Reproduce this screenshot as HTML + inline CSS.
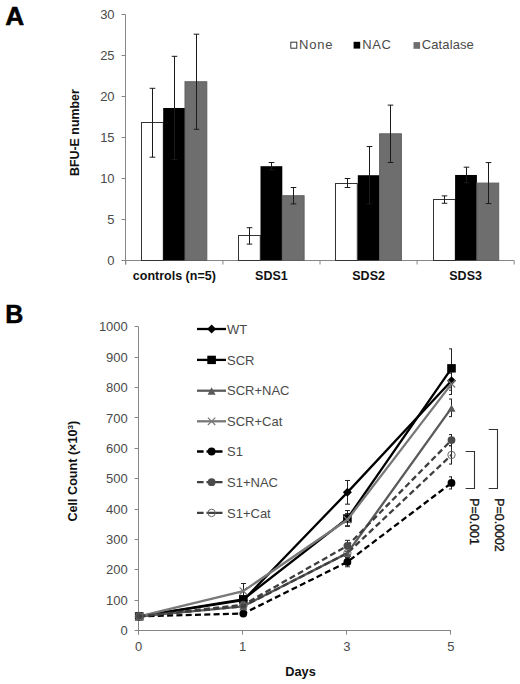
<!DOCTYPE html>
<html><head><meta charset="utf-8"><style>
html,body{margin:0;padding:0;background:#fff;}
body{width:520px;height:684px;overflow:hidden;}
svg{display:block;font-family:"Liberation Sans",sans-serif;}
</style></head><body>
<svg width="520" height="684" viewBox="0 0 520 684">
<rect width="520" height="684" fill="#fff"/>
<text transform="translate(5.3,24.7) scale(1.05,1)" font-size="25" font-weight="bold" fill="#000" stroke="#000" stroke-width="0.5">A</text>
<line x1="125.5" y1="14.500000000000028" x2="125.5" y2="264.5" stroke="#868686" stroke-width="1"/>
<line x1="121.5" y1="260.5" x2="125.5" y2="260.5" stroke="#868686" stroke-width="1"/>
<text x="114.6" y="265.1" font-size="13" text-anchor="end" fill="#4a4a4a">0</text>
<line x1="121.5" y1="219.5" x2="125.5" y2="219.5" stroke="#868686" stroke-width="1"/>
<text x="114.6" y="224.1" font-size="13" text-anchor="end" fill="#4a4a4a">5</text>
<line x1="121.5" y1="178.5" x2="125.5" y2="178.5" stroke="#868686" stroke-width="1"/>
<text x="114.6" y="183.1" font-size="13" text-anchor="end" fill="#4a4a4a">10</text>
<line x1="121.5" y1="137.5" x2="125.5" y2="137.5" stroke="#868686" stroke-width="1"/>
<text x="114.6" y="142.1" font-size="13" text-anchor="end" fill="#4a4a4a">15</text>
<line x1="121.5" y1="96.5" x2="125.5" y2="96.5" stroke="#868686" stroke-width="1"/>
<text x="114.6" y="101.1" font-size="13" text-anchor="end" fill="#4a4a4a">20</text>
<line x1="121.5" y1="55.50000000000003" x2="125.5" y2="55.50000000000003" stroke="#868686" stroke-width="1"/>
<text x="114.6" y="60.1" font-size="13" text-anchor="end" fill="#4a4a4a">25</text>
<line x1="121.5" y1="14.500000000000028" x2="125.5" y2="14.500000000000028" stroke="#868686" stroke-width="1"/>
<text x="114.6" y="19.1" font-size="13" text-anchor="end" fill="#4a4a4a">30</text>
<line x1="125.5" y1="260.5" x2="514.1999999999999" y2="260.5" stroke="#868686" stroke-width="1"/>
<line x1="125.8" y1="260.5" x2="125.8" y2="264.5" stroke="#868686" stroke-width="1"/>
<line x1="222.89999999999998" y1="260.5" x2="222.89999999999998" y2="264.5" stroke="#868686" stroke-width="1"/>
<line x1="320.0" y1="260.5" x2="320.0" y2="264.5" stroke="#868686" stroke-width="1"/>
<line x1="417.09999999999997" y1="260.5" x2="417.09999999999997" y2="264.5" stroke="#868686" stroke-width="1"/>
<line x1="514.1999999999999" y1="260.5" x2="514.1999999999999" y2="264.5" stroke="#868686" stroke-width="1"/>
<text x="174.3" y="280.4" font-size="12.5" font-weight="bold" text-anchor="middle" fill="#111">controls (n=5)</text>
<rect x="141.50" y="122.50" width="21.80" height="138.00" fill="#fff" stroke="#333" stroke-width="1"/>
<rect x="163.20" y="107.98" width="21.80" height="152.52" fill="#000" stroke="#000" stroke-width="0"/>
<rect x="185.00" y="81.74" width="21.80" height="178.76" fill="#6e6e6e" stroke="#606060" stroke-width="1"/>
<path d="M152.50 88.30V157.18M149.70 88.30h5.6M149.70 157.18h5.6" stroke="#1a1a1a" stroke-width="1" fill="none"/>
<path d="M174.50 56.32V159.64M171.70 56.32h5.6M171.70 159.64h5.6" stroke="#1a1a1a" stroke-width="1" fill="none"/>
<path d="M196.50 34.18V129.30M193.70 34.18h5.6M193.70 129.30h5.6" stroke="#1a1a1a" stroke-width="1" fill="none"/>
<text x="271.4" y="280.4" font-size="12.5" font-weight="bold" text-anchor="middle" fill="#111">SDS1</text>
<rect x="238.50" y="235.50" width="21.80" height="25.00" fill="#fff" stroke="#333" stroke-width="1"/>
<rect x="260.50" y="166.20" width="21.80" height="94.30" fill="#000" stroke="#000" stroke-width="0"/>
<rect x="282.30" y="195.72" width="21.80" height="64.78" fill="#6e6e6e" stroke="#606060" stroke-width="1"/>
<path d="M249.50 227.70V244.10M246.70 227.70h5.6M246.70 244.10h5.6" stroke="#1a1a1a" stroke-width="1" fill="none"/>
<path d="M271.50 162.51V169.89M268.70 162.51h5.6M268.70 169.89h5.6" stroke="#1a1a1a" stroke-width="1" fill="none"/>
<path d="M293.50 187.52V203.92M290.70 187.52h5.6M290.70 203.92h5.6" stroke="#1a1a1a" stroke-width="1" fill="none"/>
<text x="368.6" y="280.4" font-size="12.5" font-weight="bold" text-anchor="middle" fill="#111">SDS2</text>
<rect x="335.50" y="183.50" width="21.80" height="77.00" fill="#fff" stroke="#333" stroke-width="1"/>
<rect x="357.80" y="175.22" width="21.80" height="85.28" fill="#000" stroke="#000" stroke-width="0"/>
<rect x="379.60" y="133.81" width="21.80" height="126.69" fill="#6e6e6e" stroke="#606060" stroke-width="1"/>
<path d="M347.50 178.50V187.52M344.70 178.50h5.6M344.70 187.52h5.6" stroke="#1a1a1a" stroke-width="1" fill="none"/>
<path d="M369.50 146.52V203.92M366.70 146.52h5.6M366.70 203.92h5.6" stroke="#1a1a1a" stroke-width="1" fill="none"/>
<path d="M390.50 105.11V162.51M387.70 105.11h5.6M387.70 162.51h5.6" stroke="#1a1a1a" stroke-width="1" fill="none"/>
<text x="465.6" y="280.4" font-size="12.5" font-weight="bold" text-anchor="middle" fill="#111">SDS3</text>
<rect x="433.50" y="199.50" width="21.80" height="61.00" fill="#fff" stroke="#333" stroke-width="1"/>
<rect x="455.10" y="174.97" width="21.80" height="85.53" fill="#000" stroke="#000" stroke-width="0"/>
<rect x="476.90" y="183.09" width="21.80" height="77.41" fill="#6e6e6e" stroke="#606060" stroke-width="1"/>
<path d="M444.50 195.88V203.26M441.70 195.88h5.6M441.70 203.26h5.6" stroke="#1a1a1a" stroke-width="1" fill="none"/>
<path d="M466.50 167.18V182.76M463.70 167.18h5.6M463.70 182.76h5.6" stroke="#1a1a1a" stroke-width="1" fill="none"/>
<path d="M488.50 162.59V203.59M485.70 162.59h5.6M485.70 203.59h5.6" stroke="#1a1a1a" stroke-width="1" fill="none"/>
<rect x="290.8" y="42.2" width="6" height="6" fill="#fff" stroke="#333" stroke-width="1"/>
<text x="299" y="49" font-size="13" letter-spacing="0.8" fill="#4a4a4a">None</text>
<rect x="353.6" y="41.8" width="6.6" height="6.8" fill="#000"/>
<text x="362.2" y="49" font-size="13" letter-spacing="0.6" fill="#4a4a4a">NAC</text>
<rect x="413.5" y="42.1" width="6.6" height="6.7" fill="#6e6e6e"/>
<text x="421.8" y="49" font-size="13" letter-spacing="0.1" fill="#4a4a4a">Catalase</text>
<text transform="translate(79.3,132.6) rotate(-90)" font-size="12.4" font-weight="bold" text-anchor="middle" fill="#111">BFU-E number</text>
<text transform="translate(5.2,322.8) scale(1.0,1)" font-size="25" font-weight="bold" fill="#000" stroke="#000" stroke-width="0.5">B</text>
<line x1="138.5" y1="326.70000000000005" x2="138.5" y2="634.6" stroke="#868686" stroke-width="1"/>
<line x1="134.5" y1="630.50" x2="138.5" y2="630.50" stroke="#868686" stroke-width="1"/>
<text x="127.8" y="635.2" font-size="13" text-anchor="end" fill="#4a4a4a">0</text>
<line x1="134.5" y1="600.50" x2="138.5" y2="600.50" stroke="#868686" stroke-width="1"/>
<text x="127.8" y="604.8" font-size="13" text-anchor="end" fill="#4a4a4a">100</text>
<line x1="134.5" y1="569.50" x2="138.5" y2="569.50" stroke="#868686" stroke-width="1"/>
<text x="127.8" y="574.4" font-size="13" text-anchor="end" fill="#4a4a4a">200</text>
<line x1="134.5" y1="539.50" x2="138.5" y2="539.50" stroke="#868686" stroke-width="1"/>
<text x="127.8" y="544.0" font-size="13" text-anchor="end" fill="#4a4a4a">300</text>
<line x1="134.5" y1="509.50" x2="138.5" y2="509.50" stroke="#868686" stroke-width="1"/>
<text x="127.8" y="513.6" font-size="13" text-anchor="end" fill="#4a4a4a">400</text>
<line x1="134.5" y1="478.50" x2="138.5" y2="478.50" stroke="#868686" stroke-width="1"/>
<text x="127.8" y="483.3" font-size="13" text-anchor="end" fill="#4a4a4a">500</text>
<line x1="134.5" y1="448.50" x2="138.5" y2="448.50" stroke="#868686" stroke-width="1"/>
<text x="127.8" y="452.9" font-size="13" text-anchor="end" fill="#4a4a4a">600</text>
<line x1="134.5" y1="417.50" x2="138.5" y2="417.50" stroke="#868686" stroke-width="1"/>
<text x="127.8" y="422.5" font-size="13" text-anchor="end" fill="#4a4a4a">700</text>
<line x1="134.5" y1="387.50" x2="138.5" y2="387.50" stroke="#868686" stroke-width="1"/>
<text x="127.8" y="392.1" font-size="13" text-anchor="end" fill="#4a4a4a">800</text>
<line x1="134.5" y1="357.50" x2="138.5" y2="357.50" stroke="#868686" stroke-width="1"/>
<text x="127.8" y="361.7" font-size="13" text-anchor="end" fill="#4a4a4a">900</text>
<line x1="134.5" y1="326.50" x2="138.5" y2="326.50" stroke="#868686" stroke-width="1"/>
<text x="127.8" y="331.3" font-size="13" text-anchor="end" fill="#4a4a4a">1000</text>
<line x1="138.5" y1="630.5" x2="451" y2="630.5" stroke="#868686" stroke-width="1"/>
<line x1="138.5" y1="630.5" x2="138.5" y2="634.6" stroke="#868686" stroke-width="1"/>
<text x="138.6" y="650.6" font-size="13" text-anchor="middle" fill="#4a4a4a">0</text>
<line x1="242.5" y1="630.5" x2="242.5" y2="634.6" stroke="#868686" stroke-width="1"/>
<text x="242.7" y="650.6" font-size="13" text-anchor="middle" fill="#4a4a4a">1</text>
<line x1="346.5" y1="630.5" x2="346.5" y2="634.6" stroke="#868686" stroke-width="1"/>
<text x="346.8" y="650.6" font-size="13" text-anchor="middle" fill="#4a4a4a">3</text>
<line x1="450.5" y1="630.5" x2="450.5" y2="634.6" stroke="#868686" stroke-width="1"/>
<text x="450.9" y="650.6" font-size="13" text-anchor="middle" fill="#4a4a4a">5</text>
<text x="300.5" y="676.3" font-size="12.8" font-weight="bold" text-anchor="middle" fill="#111">Days</text>
<text transform="translate(77.4,471.2) rotate(-90)" font-size="12.6" font-weight="bold" text-anchor="middle" fill="#111">Cell Count (×10<tspan font-size="8" dy="-4">3</tspan><tspan dy="4">)</tspan></text>
<path d="M243.50 597.17V603.25M241.00 597.17h5M241.00 603.25h5" stroke="#222" stroke-width="1" fill="none"/>
<path d="M347.50 480.47V504.18M345.00 480.47h5M345.00 504.18h5" stroke="#222" stroke-width="1" fill="none"/>
<path d="M451.50 371.37V390.22M449.00 371.37h3M449.00 390.22h3" stroke="#222" stroke-width="1" fill="none"/>
<path d="M243.50 596.26V602.34M241.00 596.26h5M241.00 602.34h5" stroke="#222" stroke-width="1" fill="none"/>
<path d="M347.50 510.56V526.36M345.00 510.56h5M345.00 526.36h5" stroke="#222" stroke-width="1" fill="none"/>
<path d="M451.50 348.88V387.78M449.00 348.88h3M449.00 387.78h3" stroke="#222" stroke-width="1" fill="none"/>
<path d="M243.50 603.86V608.72M241.00 603.86h5M241.00 608.72h5" stroke="#222" stroke-width="1" fill="none"/>
<path d="M347.50 547.03V559.18M345.00 547.03h5M345.00 559.18h5" stroke="#222" stroke-width="1" fill="none"/>
<path d="M451.50 399.03V416.65M449.00 399.03h3M449.00 416.65h3" stroke="#222" stroke-width="1" fill="none"/>
<path d="M243.50 583.50V598.69M241.00 583.50h5M241.00 598.69h5" stroke="#222" stroke-width="1" fill="none"/>
<path d="M347.50 513.60V525.75M345.00 513.60h5M345.00 525.75h5" stroke="#222" stroke-width="1" fill="none"/>
<path d="M451.50 373.20V394.47M449.00 373.20h3M449.00 394.47h3" stroke="#222" stroke-width="1" fill="none"/>
<path d="M243.50 611.76V615.40M241.00 611.76h5M241.00 615.40h5" stroke="#222" stroke-width="1" fill="none"/>
<path d="M347.50 557.06V566.78M345.00 557.06h5M345.00 566.78h5" stroke="#222" stroke-width="1" fill="none"/>
<path d="M451.50 476.83V488.98M449.00 476.83h3M449.00 488.98h3" stroke="#222" stroke-width="1" fill="none"/>
<path d="M243.50 602.34V607.20M241.00 602.34h5M241.00 607.20h5" stroke="#222" stroke-width="1" fill="none"/>
<path d="M347.50 540.34V551.28M345.00 540.34h5M345.00 551.28h5" stroke="#222" stroke-width="1" fill="none"/>
<path d="M451.50 434.58V445.52M449.00 434.58h3M449.00 445.52h3" stroke="#222" stroke-width="1" fill="none"/>
<path d="M243.50 603.86V608.72M241.00 603.86h5M241.00 608.72h5" stroke="#222" stroke-width="1" fill="none"/>
<path d="M347.50 548.55V557.66M345.00 548.55h5M345.00 557.66h5" stroke="#222" stroke-width="1" fill="none"/>
<path d="M451.50 445.83V464.06M449.00 445.83h3M449.00 464.06h3" stroke="#222" stroke-width="1" fill="none"/>
<polyline points="139.20,616.32 243.30,600.21 347.40,492.33 451.50,380.79" fill="none" stroke="#000" stroke-width="2.3" stroke-linejoin="round"/>
<path d="M139.2 611.82L143.7 616.32L139.2 620.82L134.7 616.32Z" fill="#000"/>
<path d="M243.3 595.71L247.8 600.21L243.3 604.71L238.8 600.21Z" fill="#000"/>
<path d="M347.4 487.83L351.9 492.33L347.4 496.83L342.9 492.33Z" fill="#000"/>
<path d="M451.5 376.29L456.0 380.79L451.5 385.29L447.0 380.79Z" fill="#000"/>
<polyline points="139.20,616.32 243.30,599.30 347.40,518.46 451.50,368.33" fill="none" stroke="#000" stroke-width="2.3" stroke-linejoin="round"/>
<rect x="134.90" y="612.12" width="8.6" height="8.4" fill="#000"/>
<rect x="239.00" y="595.10" width="8.6" height="8.4" fill="#000"/>
<rect x="343.10" y="514.26" width="8.6" height="8.4" fill="#000"/>
<rect x="447.20" y="364.13" width="8.6" height="8.4" fill="#000"/>
<polyline points="139.20,616.32 243.30,606.29 347.40,553.11 451.50,407.84" fill="none" stroke="#5a5a5a" stroke-width="2.3" stroke-linejoin="round"/>
<path d="M139.2 612.92L143.20 620.32L135.20 620.32Z" fill="#5a5a5a"/>
<path d="M243.3 602.89L247.30 610.29L239.30 610.29Z" fill="#5a5a5a"/>
<path d="M347.4 549.71L351.40 557.11L343.40 557.11Z" fill="#5a5a5a"/>
<path d="M451.5 404.44L455.50 411.84L447.50 411.84Z" fill="#5a5a5a"/>
<polyline points="139.20,616.32 243.30,591.09 347.40,519.68 451.50,383.83" fill="none" stroke="#787878" stroke-width="2.3" stroke-linejoin="round"/>
<path d="M135.5 612.62L142.89999999999998 620.0200000000001M142.89999999999998 612.62L135.5 620.0200000000001" stroke="#787878" stroke-width="1.2"/>
<path d="M239.60000000000002 587.39L247.0 594.7900000000001M247.0 587.39L239.60000000000002 594.7900000000001" stroke="#787878" stroke-width="1.2"/>
<path d="M343.7 515.9799999999999L351.09999999999997 523.38M351.09999999999997 515.9799999999999L343.7 523.38" stroke="#787878" stroke-width="1.2"/>
<path d="M447.8 380.13L455.2 387.53M455.2 380.13L447.8 387.53" stroke="#787878" stroke-width="1.2"/>
<polyline points="139.20,616.32 243.30,613.58 347.40,561.92 451.50,482.90" fill="none" stroke="#000" stroke-width="2.3" stroke-dasharray="6,3.3" stroke-linejoin="round"/>
<circle cx="139.2" cy="616.32" r="3.9000000000000004" fill="#000"/>
<circle cx="243.3" cy="613.58" r="3.9000000000000004" fill="#000"/>
<circle cx="347.4" cy="561.92" r="3.9000000000000004" fill="#000"/>
<circle cx="451.5" cy="482.9" r="3.9000000000000004" fill="#000"/>
<polyline points="139.20,616.32 243.30,604.77 347.40,545.81 451.50,440.05" fill="none" stroke="#3e3e3e" stroke-width="2.3" stroke-dasharray="6,3.3" stroke-linejoin="round"/>
<circle cx="139.2" cy="616.32" r="3.9000000000000004" fill="#4a4a4a"/>
<circle cx="243.3" cy="604.77" r="3.9000000000000004" fill="#4a4a4a"/>
<circle cx="347.4" cy="545.81" r="3.9000000000000004" fill="#4a4a4a"/>
<circle cx="451.5" cy="440.05" r="3.9000000000000004" fill="#4a4a4a"/>
<polyline points="139.20,616.32 243.30,606.29 347.40,553.11 451.50,454.95" fill="none" stroke="#3e3e3e" stroke-width="2.3" stroke-dasharray="6,3.3" stroke-linejoin="round"/>
<circle cx="139.2" cy="616.32" r="3.7" fill="none" stroke="#666" stroke-width="1"/>
<circle cx="243.3" cy="606.29" r="3.7" fill="none" stroke="#666" stroke-width="1"/>
<circle cx="347.4" cy="553.11" r="3.7" fill="none" stroke="#666" stroke-width="1"/>
<circle cx="451.5" cy="454.95" r="3.7" fill="none" stroke="#666" stroke-width="1"/>
<line x1="197" y1="329.0" x2="226" y2="329.0" stroke="#000" stroke-width="2.3"/>
<path d="M211.6 324.5L216.1 329.0L211.6 333.5L207.1 329.0Z" fill="#000"/>
<text x="227" y="333.6" font-size="13" fill="#4a4a4a">WT</text>
<line x1="197" y1="359.9" x2="226" y2="359.9" stroke="#000" stroke-width="2.3"/>
<rect x="207.30" y="355.70" width="8.6" height="8.4" fill="#000"/>
<text x="227" y="364.5" font-size="13" fill="#4a4a4a">SCR</text>
<line x1="197" y1="390.7" x2="226" y2="390.7" stroke="#5a5a5a" stroke-width="2.3"/>
<path d="M211.6 387.30L215.60 394.70L207.60 394.70Z" fill="#5a5a5a"/>
<text x="227" y="395.3" font-size="13" fill="#4a4a4a">SCR+NAC</text>
<line x1="197" y1="421.3" x2="226" y2="421.3" stroke="#787878" stroke-width="2.3"/>
<path d="M207.9 417.6L215.29999999999998 425.0M215.29999999999998 417.6L207.9 425.0" stroke="#787878" stroke-width="1.2"/>
<text x="227" y="425.9" font-size="13" fill="#4a4a4a">SCR+Cat</text>
<path d="M197 451.5h6.6M206.5 451.5h16" stroke="#000" stroke-width="2.3" fill="none"/>
<circle cx="211.6" cy="451.5" r="3.9000000000000004" fill="#000"/>
<text x="227" y="456.1" font-size="13" fill="#4a4a4a">S1</text>
<path d="M197 482.2h6.6M206.5 482.2h16" stroke="#3e3e3e" stroke-width="2.3" fill="none"/>
<circle cx="211.6" cy="482.2" r="3.9000000000000004" fill="#4a4a4a"/>
<text x="227" y="486.8" font-size="13" fill="#4a4a4a">S1+NAC</text>
<path d="M197 512.9h6.6M206.5 512.9h16" stroke="#3e3e3e" stroke-width="2.3" fill="none"/>
<circle cx="211.6" cy="512.9" r="3.7" fill="none" stroke="#666" stroke-width="1"/>
<text x="227" y="517.5" font-size="13" fill="#4a4a4a">S1+Cat</text>
<path d="M465.6 451.5H474.5V488.5H465.6" fill="none" stroke="#333" stroke-width="1.1"/>
<path d="M488.7 429.5H497.5V488.5H488.7" fill="none" stroke="#333" stroke-width="1.1"/>
<text transform="translate(469.6,498.3) rotate(90)" font-size="12.4" fill="#111" stroke="#111" stroke-width="0.35">P=0.001</text>
<text transform="translate(495.2,498.3) rotate(90)" font-size="12.4" fill="#111" stroke="#111" stroke-width="0.35">P=0.0002</text>
</svg>
</body></html>
